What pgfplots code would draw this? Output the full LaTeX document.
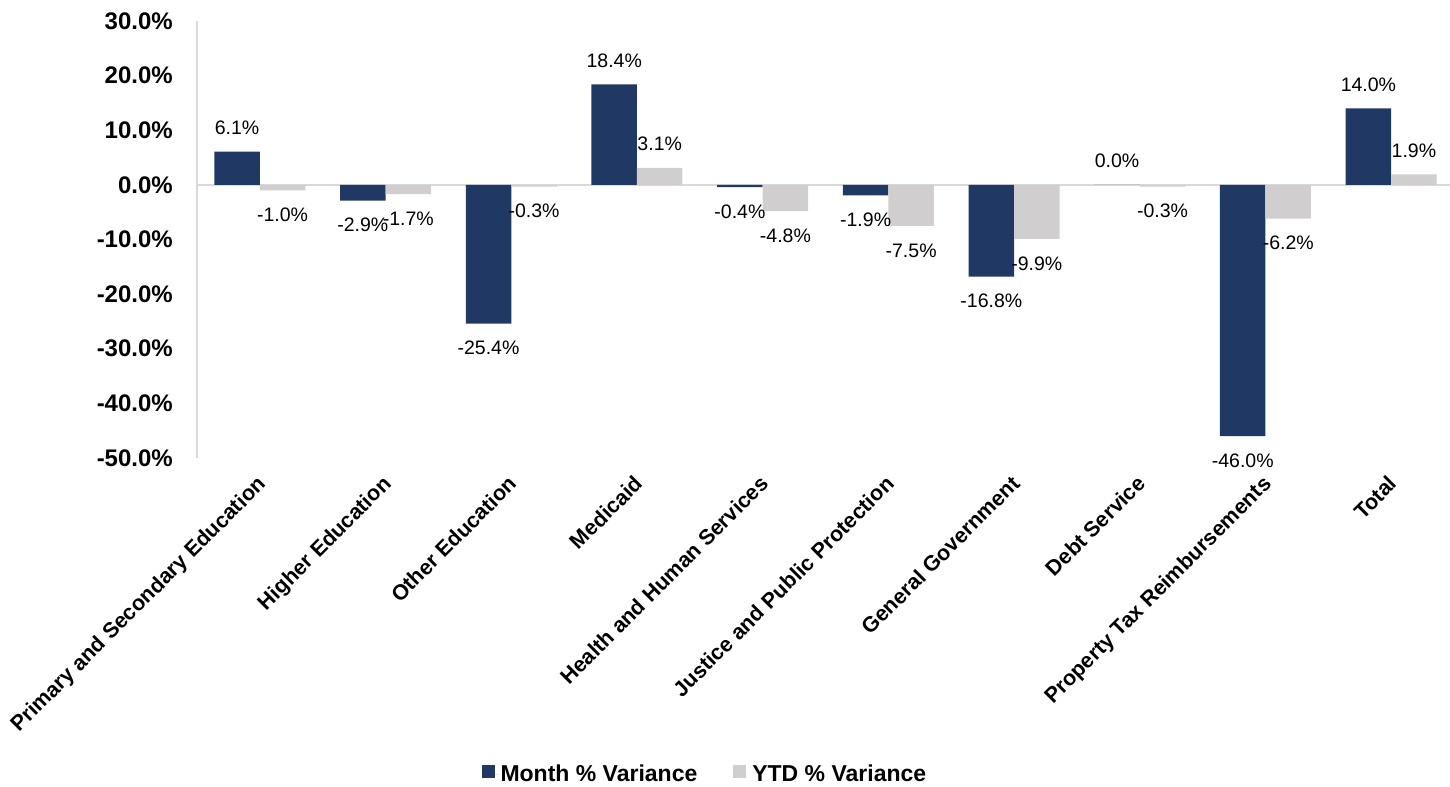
\documentclass[border=0pt]{standalone}
\usepackage{fontspec}
\setmainfont{Liberation Sans}
\usepackage{pgfplots}
\pgfplotsset{compat=1.18}
\definecolor{navy}{RGB}{31,56,100}
\definecolor{lgray}{RGB}{208,206,206}
\definecolor{axgray}{RGB}{217,217,217}

\begin{document}
\begin{tikzpicture}
\begin{axis}[name=ax, scale only axis, width=1257bp, height=437bp,
  ybar=0pt, bar width=45.5bp,
  xmin=-0.5, xmax=9.5, ymin=-50, ymax=30, enlargelimits=false,
  axis lines*=left,
  x axis line style={draw=none},
  y axis line style={draw=axgray, line width=1.3bp},
  major tick length=0pt,
  xtick={0,1,2,3,4,5,6,7,8,9},
  xticklabels={Primary and Secondary Education, Higher Education, Other Education, Medicaid, Health and Human Services, Justice and Public Protection, General Government, Debt Service, Property Tax Reimbursements, Total},
  xticklabel style={font=\bfseries\fontsize{21.5bp}{25bp}\selectfont, inner sep=0pt, xshift=-4bp, yshift=-16bp, rotate=45, anchor=north east},
  ytick={-50,-40,-30,-20,-10,0,10,20,30},
  yticklabels={-50.0\%,-40.0\%,-30.0\%,-20.0\%,-10.0\%,0.0\%,10.0\%,20.0\%,30.0\%},
  yticklabel style={font=\bfseries\fontsize{24bp}{28bp}\selectfont, inner sep=0pt, anchor=east, xshift=-24bp},
  extra y ticks={0}, extra y tick labels={},
  extra y tick style={grid=major, major grid style={draw=axgray, line width=1.3bp}},
  clip=false,
  point meta=explicit symbolic,
  nodes near coords={\pgfplotspointmeta\%},
  every node near coord/.append style={font=\fontsize{19.5bp}{22bp}\selectfont, text height=14bp, text depth=0pt, inner xsep=0pt, inner ysep=17bp, black},
  pos/.style={every node near coord/.append style={anchor=south}},
  neg/.style={every node near coord/.append style={anchor=north}},
  mon/.style={fill=navy, draw=none, bar shift=-22.75bp},
  ytd/.style={fill=lgray, draw=none, bar shift=22.75bp},
  legend style={at={(0.404,0)}, anchor=center, yshift=-316bp, draw=none, fill=none, legend columns=2,
    font=\bfseries\fontsize{23bp}{27bp}\selectfont,
    /tikz/every even column/.append style={column sep=34bp}},
]
% Month % Variance
\addplot[mon, pos, legend image code/.code={\path (0bp,0bp) -- (17bp,0bp); \fill[navy] (0bp,-4.3bp) rectangle (13bp,8.7bp);}]
  coordinates {(0,6.1) [6.1] (3,18.4) [18.4] (7,0.0) [0.0] (9,14.0) [14.0]};
\addlegendentry{Month \% Variance}
\addplot[mon, neg, forget plot]
  coordinates {(1,-2.9) [-2.9] (2,-25.4) [-25.4] (4,-0.4) [-0.4] (5,-1.9) [-1.9] (6,-16.8) [-16.8] (8,-46.0) [-46.0]};
% YTD % Variance
\addplot[ytd, neg, legend image code/.code={\path (0bp,0bp) -- (17bp,0bp); \fill[lgray] (0bp,-4.3bp) rectangle (13bp,8.7bp);}]
  coordinates {(0,-1.0) [-1.0] (1,-1.7) [-1.7] (2,-0.3) [-0.3] (4,-4.8) [-4.8] (5,-7.5) [-7.5] (6,-9.9) [-9.9] (7,-0.3) [-0.3] (8,-6.2) [-6.2]};
\addlegendentry{YTD \% Variance}
\addplot[ytd, pos, forget plot]
  coordinates {(3,3.1) [3.1] (9,1.9) [1.9]};
\end{axis}
\pgfresetboundingbox
\path[use as bounding box] ([xshift=-197bp,yshift=-329bp]ax.south west) rectangle ++(1450bp,787bp);
\end{tikzpicture}
\end{document}
